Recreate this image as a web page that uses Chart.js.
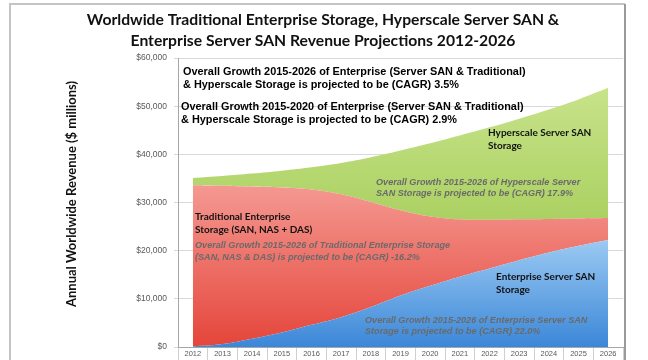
<!DOCTYPE html>
<html>
<head>
<meta charset="utf-8">
<script src="https://cdn.jsdelivr.net/npm/chart.js@4/dist/chart.umd.min.js"></script>
<style>
  html, body { margin: 0; padding: 0; background: #ffffff; }
  #wrap { width: 648px; height: 360px; }
</style>
</head>
<body>
<div id="wrap"><canvas id="c" width="648" height="360"></canvas></div>
<script>
// ---- Data ($ millions) ----
const years = ['2012','2013','2014','2015','2016','2017','2018','2019','2020','2021','2022','2023','2024','2025','2026'];
const enterpriseServerSAN = [100, 600, 1700, 3000, 4600, 6200, 8300, 10700, 12700, 14600, 16300, 18000, 19600, 21000, 22200];
const traditionalEnterprise = [33500, 32900, 31600, 30100, 28100, 25500, 21800, 17700, 14400, 11900, 10100, 8500, 7000, 5700, 4600];
const hyperscaleServerSAN = [1500, 2000, 2700, 3500, 4600, 6500, 9300, 12400, 15200, 17400, 19200, 20900, 22700, 24700, 27000];
const yTickValues = [0, 10000, 20000, 30000, 40000, 50000, 60000];

const titleLines = [
  'Worldwide Traditional Enterprise Storage, Hyperscale Server SAN &',
  'Enterprise Server SAN Revenue Projections 2012-2026'
];
const yAxisTitle = 'Annual Worldwide Revenue ($ millions)';

function vGrad(stops) {
  return function(ctx) {
    const chart = ctx.chart;
    const a = chart.chartArea;
    if (!a) return stops[0][1];
    const g = chart.ctx.createLinearGradient(0, a.top, 0, a.bottom);
    stops.forEach(s => g.addColorStop(s[0], s[1]));
    return g;
  };
}

const textPlugin = {
  id: 'texts',
  beforeDraw(chart) {
    const c = chart.ctx;
    c.save();
    c.fillStyle = '#ffffff';
    c.fillRect(0, 0, chart.width, chart.height);
    c.restore();
  },
  afterDraw(chart) {
    const c = chart.ctx;
    c.save();
    // frame
    c.strokeStyle = '#c4c4c4';
    c.lineWidth = 2;
    c.beginPath();
    c.moveTo(10, 362); c.lineTo(10, 4); c.lineTo(625, 4);
    c.stroke();
    c.strokeStyle = '#9a9a9a';
    c.beginPath();
    c.moveTo(625, 4); c.lineTo(625, 362);
    c.stroke();

    // title
    c.fillStyle = '#111111';
    c.textAlign = 'center';
    c.textBaseline = 'middle';
    c.font = 'bold 15.7px Lato';
    c.fillText(titleLines[0], 323, 20);
    c.fillText(titleLines[1], 323, 41);

    // y axis title
    c.save();
    c.translate(72, 194);
    c.rotate(-Math.PI / 2);
    c.font = 'bold 13px Lato';
    c.fillText(yAxisTitle, 0, 0);
    c.restore();

    c.textAlign = 'left';
    // overall growth notes
    c.fillStyle = '#000000';
    c.font = 'bold 10.9px "Liberation Sans"';
    c.fillText('Overall Growth 2015-2026 of Enterprise (Server SAN & Traditional)', 183, 72);
    c.fillText('& Hyperscale Storage is projected to be (CAGR) 3.5%', 183, 85);
    c.fillText('Overall Growth 2015-2020 of Enterprise (Server SAN & Traditional)', 181, 107);
    c.fillText('& Hyperscale Storage is projected to be (CAGR) 2.9%', 181, 120);

    // series labels
    c.fillStyle = '#111111';
    c.font = 'bold 10px Lato';
    c.fillText('Hyperscale Server SAN', 488, 133);
    c.fillText('Storage', 488, 146);
    c.fillText('Traditional Enterprise', 195, 217);
    c.fillText('Storage (SAN, NAS + DAS)', 195, 230);
    c.fillText('Enterprise Server SAN', 496, 277);
    c.fillText('Storage', 496, 290);

    // italic growth notes
    c.fillStyle = '#6a6a6a';
    c.font = 'italic bold 9.1px "Liberation Sans"';
    c.fillText('Overall Growth 2015-2026 of Hyperscale Server', 376, 182);
    c.fillText('SAN Storage is projected to be (CAGR) 17.9%', 376, 193);
    c.fillText('Overall Growth 2015-2026 of Traditional Enterprise Storage', 195, 245);
    c.fillText('(SAN, NAS & DAS) is projected to be (CAGR) -16.2%', 195, 257);
    c.fillText('Overall Growth 2015-2026 of Enterprise Server SAN', 365, 320);
    c.fillText('Storage is projected to be (CAGR) 22.0%', 365, 331);
    c.restore();
  }
};

new Chart(document.getElementById('c'), {
  type: 'line',
  data: {
    labels: years,
    datasets: [
      {
        label: 'Enterprise Server SAN Storage',
        data: enterpriseServerSAN,
        fill: 'origin',
        backgroundColor: vGrad([[0, '#cfe6fb'], [0.6, '#a3cff5'], [1, '#3b87d8']])
      },
      {
        label: 'Traditional Enterprise Storage (SAN, NAS + DAS)',
        data: traditionalEnterprise,
        fill: '-1',
        backgroundColor: vGrad([[0, '#f9b4ae'], [0.45, '#f49790'], [1, '#e5453a']])
      },
      {
        label: 'Hyperscale Server SAN Storage',
        data: hyperscaleServerSAN,
        fill: '-1',
        backgroundColor: vGrad([[0, '#cfe793'], [0.35, '#b8d974'], [0.7, '#a3cb56'], [1, '#9cc54c']])
      }
    ]
  },
  options: {
    responsive: false,
    animation: false,
    devicePixelRatio: 1,
    layout: { padding: { top: 58, right: 25, left: 0, bottom: 0 } },
    elements: {
      line: { tension: 0.4, borderWidth: 0, borderColor: 'rgba(0,0,0,0)' },
      point: { radius: 0 }
    },
    plugins: { legend: { display: false }, tooltip: { enabled: false }, title: { display: false } },
    scales: {
      x: {
        offset: true,
        grid: { offset: true, drawOnChartArea: false, tickLength: 13, color: '#d0d0d0' },
        border: { color: '#a6a6a6' },
        ticks: { padding: -11, maxRotation: 0, autoSkip: false, color: '#595959', font: { size: 7.5, family: 'Liberation Sans' } },
        afterFit(s) { s.height = 13; }
      },
      y: {
        stacked: true,
        min: 0,
        max: 60000,
        afterBuildTicks(s) { s.ticks = yTickValues.map(v => ({ value: v })); },
        ticks: {
          padding: 7,
          color: '#595959',
          font: { size: 8.5, family: 'Liberation Sans' },
          callback: v => '$' + Number(v).toLocaleString('en-US')
        },
        grid: { color: '#d9d9d9', tickLength: 4 },
        border: { color: '#a6a6a6' },
        afterFit(s) { s.width = 178; }
      }
    }
  },
  plugins: [textPlugin]
});
</script>
</body>
</html>
